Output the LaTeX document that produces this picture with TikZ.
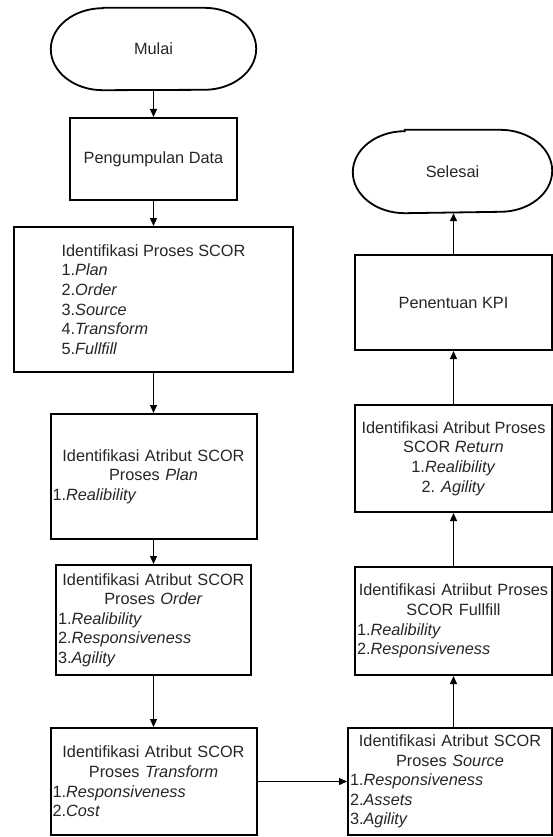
\documentclass[tikz,border=0pt]{standalone}
\usepackage{fontspec}
\setmainfont{Liberation Sans}
\usetikzlibrary{arrows.meta}

\tikzset{
  kotak/.style={draw, rectangle, line width=2pt, inner xsep=2pt, inner ysep=0pt, align=center, text=black!85},
  ujung/.style={rectangle, inner sep=0pt, text=black!85},
  panah/.style={-{Triangle[length=8pt,width=7pt]}, line width=1.3pt},
}
\newcommand{\kiri}[1]{#1\hfill\null}
% terminator dengan ujung elips
\newcommand{\ujungpath}[1]{%
  \draw[line width=1.8pt] ([xshift=52pt]#1.north west) -- ([xshift=-52pt]#1.north east)
    arc[start angle=90, end angle=-90, x radius=52pt, y radius=41pt]
    -- ([xshift=52pt]#1.south west)
    arc[start angle=270, end angle=90, x radius=52pt, y radius=41pt] -- cycle;}

\begin{document}
\begin{tikzpicture}[x=1pt, y=-1pt, font=\fontsize{16.3}{19.6}\selectfont]
\useasboundingbox (0,0) rectangle (553,837);
% Kolom kiri
\node[ujung, minimum width=205pt, minimum height=82pt] (mulai) at (153.5,49) {Mulai};
\node[kotak, minimum width=167pt, minimum height=82pt] (data) at (153.5,159) {Pengumpulan Data};
\node[kotak, minimum width=279pt, minimum height=145pt, align=left] (proses) at (153.5,299.5)
  {Identifikasi Proses SCOR\\1.\textit{Plan}\\2.\textit{Order}\\3.\textit{Source}\\4.\textit{Transform}\\5.\textit{Fullfill}};
\node[kotak, minimum width=206pt, minimum height=125pt, text width=202pt] (plan) at (153.5,476.5)
  {Identifikasi Atribut SCOR\\Proses \textit{Plan}\\\kiri{1.\textit{Realibility}}};
\node[kotak, minimum width=195pt, minimum height=110pt, text width=191pt] (order) at (153.5,620)
  {Identifikasi Atribut SCOR\\Proses \textit{Order}\\\kiri{1.\textit{Realibility}}\\\kiri{2.\textit{Responsiveness}}\\\kiri{3.\textit{Agility}}};
\node[kotak, minimum width=206pt, minimum height=107pt, text width=202pt] (transform) at (153.5,781.5)
  {Identifikasi Atribut SCOR\\Proses \textit{Transform}\\\kiri{1.\textit{Responsiveness}}\\\kiri{2.\textit{Cost}}};
% Kolom kanan
\node[ujung, minimum width=199pt, minimum height=83pt] (selesai) at (452.5,171.5) {Selesai};
\node[kotak, minimum width=197pt, minimum height=95pt] (kpi) at (453.5,302.5) {Penentuan KPI};
\node[kotak, minimum width=197pt, minimum height=107pt] (return) at (453.5,458.5)
  {Identifikasi Atribut Proses\\SCOR \textit{Return}\\1.\textit{Realibility}\\2. \textit{Agility}};
\node[kotak, minimum width=197pt, minimum height=108pt, text width=193pt] (fullfill) at (453.5,621)
  {Identifikasi Atriibut Proses\\SCOR Fullfill\\\kiri{1.\textit{Realibility}}\\\kiri{2.\textit{Responsiveness}}};
\node[kotak, minimum width=204pt, minimum height=107pt, text width=200pt] (source) at (450,781.5)
  {Identifikasi Atribut SCOR\\Proses \textit{Source}\\\kiri{1.\textit{Responsiveness}}\\\kiri{2.\textit{Assets}}\\\kiri{3.\textit{Agility}}};
\ujungpath{mulai}
\ujungpath{selesai}
% Panah
\foreach \a/\b in {mulai/data, data/proses, proses/plan, plan/order, order/transform, transform/source, fullfill/return, return/kpi}
  \draw[panah] (\a) -- (\b);
\draw[panah] (kpi.north) -- (kpi.north |- selesai.south);
\draw[panah] (fullfill.south |- source.north) -- (fullfill.south);
\end{tikzpicture}
\end{document}
